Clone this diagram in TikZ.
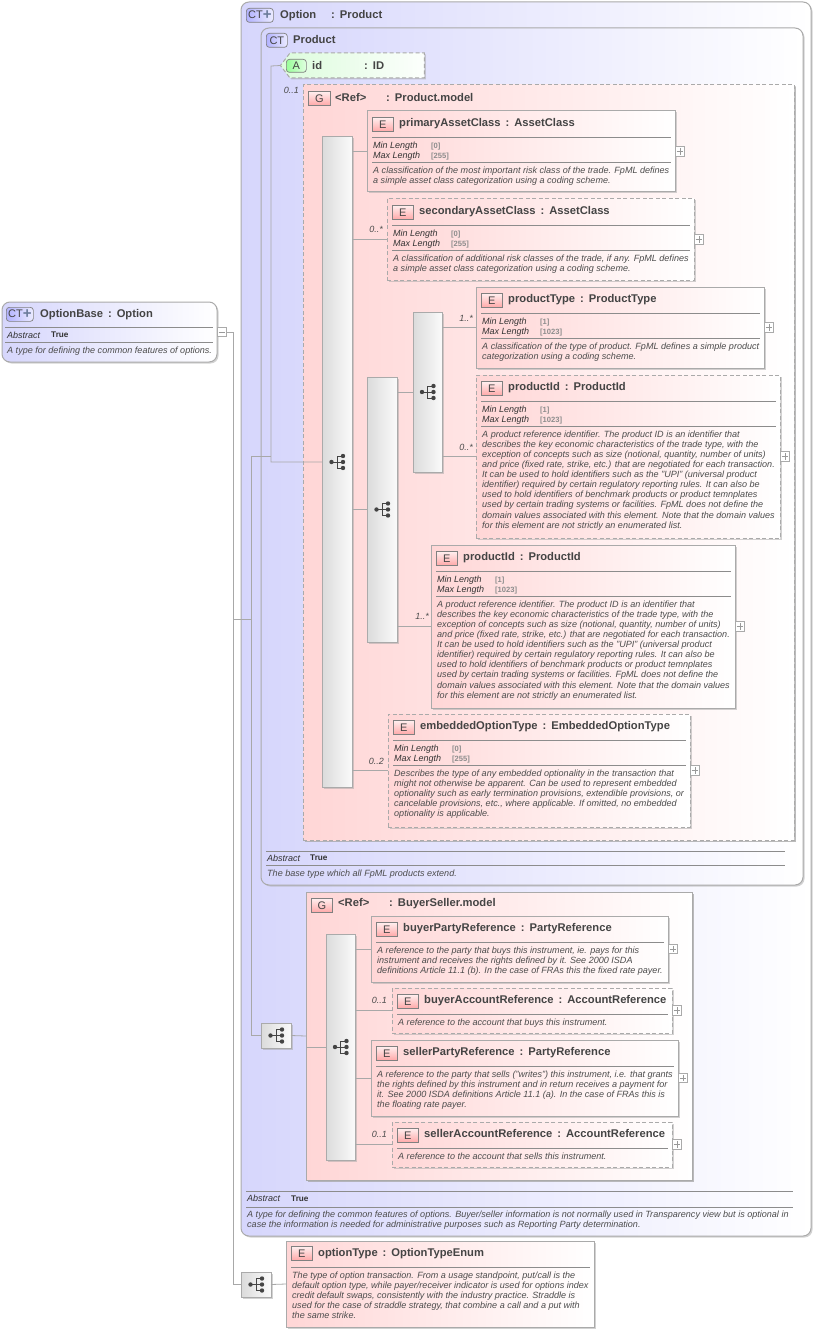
\documentclass[tikz,border=0pt]{standalone}
\usepackage{fontspec}
\setmainfont{Liberation Sans}
\usetikzlibrary{shadows,shapes.symbols}

\definecolor{inkgray}{HTML}{444444}
\definecolor{edgegray}{HTML}{AAAAAA}
\definecolor{wiregray}{HTML}{A8A8A8}
\definecolor{ctblue}{HTML}{D6D6FC}
\definecolor{elempink}{HTML}{FFD6D6}
\definecolor{attrgreen}{HTML}{DCFCDC}
\definecolor{plusblue}{HTML}{6C7C9C}

\tikzset{
	softshadow/.style={drop shadow={shadow xshift=1.5pt,shadow yshift=-1.5pt,fill=black!35,opacity=.5}},
	box/.style={draw=edgegray,line width=1pt,anchor=north west,inner sep=0,outer sep=0,softshadow},
	ctbox/.style={box,rounded corners=8pt,left color=ctblue,right color=white},
	groupbox/.style={box,left color=elempink,right color=white},
	elembox/.style={box,left color=elempink,right color=white},
	optional/.style={dash pattern=on 4pt off 2.5pt},
	seqbox/.style={box,left color=black!14,right color=black!2},
	attrbox/.style={box,shape=signal,signal to=west,signal pointer angle=105,optional,left color=attrgreen,right color=white!92!attrgreen},
	badge/.style={draw=black!50,line width=.7pt,anchor=north west,inner sep=0,minimum height=14pt,text=inkgray,font=\fontsize{11}{11}\selectfont},
	elembadge/.style={badge,minimum width=21pt,bottom color=red!34!white,top color=red!6!white},
	ctbadge/.style={badge,rounded corners=3pt,left color=blue!30!white,right color=blue!8!white},
	attrbadge/.style={badge,rounded corners=3pt,minimum width=20pt,minimum height=13pt,left color=green!40!white,right color=green!12!white},
	titletext/.style={anchor=base west,inner sep=0,text=inkgray,font=\fontsize{11.2}{12}\bfseries\selectfont},
	facetname/.style={anchor=base west,inner sep=0,text=black!80,font=\fontsize{9}{10}\itshape\selectfont},
	facetvalue/.style={anchor=base west,inner sep=0,text=black!45,font=\fontsize{7.6}{10}\bfseries\selectfont},
	abstractvalue/.style={anchor=base west,inner sep=0,text=black!80,font=\fontsize{8.2}{10}\bfseries\selectfont},
	doctext/.style={anchor=north west,inner sep=0,align=left,text=black!70,font=\fontsize{9.05}{10.1}\itshape\selectfont},
	multtext/.style={anchor=base east,inner sep=0,text=black!70,font=\fontsize{9}{10}\itshape\selectfont},
	sepline/.style={draw=black!45,line width=.7pt},
	wire/.style={draw=wiregray,line width=.8pt},
	plusbox/.style={draw=edgegray,fill=white,line width=.6pt,anchor=west,inner sep=0,outer sep=0,minimum size=9.5pt,
		path picture={\draw[black!40,line width=.5pt] ([yshift=-1.5pt]path picture bounding box.north) -- ([yshift=1.5pt]path picture bounding box.south);
			\draw[black!40,line width=.5pt] ([xshift=1.5pt]path picture bounding box.west) -- ([xshift=-1.5pt]path picture bounding box.east);}},
	minusbox/.style={draw=edgegray,fill=white,line width=.6pt,anchor=west,inner sep=0,outer sep=0,minimum size=9.5pt,
		path picture={\draw[black!40,line width=.5pt] ([xshift=1.5pt]path picture bounding box.west) -- ([xshift=-1.5pt]path picture bounding box.east);}},
	seqicon/.pic={
		\fill[inkgray] (-5.5,0) circle (2.2pt);
		\fill[inkgray] (6,-6) circle (2.2pt) (6,0) circle (2.2pt) (6,6) circle (2.2pt);
		\draw[inkgray,line width=.8pt] (-5.5,0) -- (6,0) (6,-6) -- (0,-6) -- (0,6) -- (6,6);
	},
}

\newcommand{\tsep}{\hspace{5pt}:\hspace{5pt}}
\newcommand{\ctplus}{CT{\fontsize{15}{11}\bfseries\color{plusblue}\raisebox{-1pt}{+}}}

% name, style, position, width, height, title
\newcommand{\elemhead}[6]{
	\node[elembox,#2,minimum width=#4,minimum height=#5] (#1) at #3 {};
	\node[elembadge] (#1badge) at ([shift={(5,6)}]#1.north west) {E};
	\node[titletext] (#1title) at ([shift={(32,15.8)}]#1.north west) {#6};
	\node[plusbox] (#1plus) at (#1.east) {};
	\draw[sepline] ([shift={(5,26)}]#1.north west) -- ([shift={(-4,26)}]#1.north east);
}
% name, min, max
\newcommand{\elemfacets}[3]{
	\node[facetname] (#1minname) at ([shift={(6,37.8)}]#1.north west) {Min Length};
	\node[facetvalue] (#1minval) at ([shift={(64,37.8)}]#1.north west) {[#2]};
	\node[facetname] (#1maxname) at ([shift={(6,47.8)}]#1.north west) {Max Length};
	\node[facetvalue] (#1maxval) at ([shift={(64,47.8)}]#1.north west) {[#3]};
	\draw[sepline] ([shift={(5,51)}]#1.north west) -- ([shift={(-4,51)}]#1.north east);
}
% name, offset, text
\newcommand{\elemdoc}[3]{
	\node[doctext] (#1doc) at ([shift={(6,#2)}]#1.north west) {\rule{0pt}{7pt}#3};
}

\begin{document}
\begin{tikzpicture}[x=1pt,y=-1pt]

	\useasboundingbox (0,0) rectangle (816,1332);

	% the type on the left
	\node[ctbox,minimum width=215,minimum height=60] (optionbase) at (2,302) {};
	\node[ctbadge,minimum width=27pt] (optionbasebadge) at (6,307) {\ctplus};
	\node[titletext] (optionbasetitle) at (40,317.5) {OptionBase\tsep Option};
	\draw[sepline] (5,327) -- (213,327);
	\node[facetname] (optionbaseabs) at (7,338.5) {Abstract};
	\node[abstractvalue] (optionbasetrue) at (51,337.5) {True};
	\draw[sepline] (5,342) -- (213,342);
	\node[doctext] (optionbasedoc) at (7,346) {\rule{0pt}{7pt}A type for defining the common features of options.};
	\node[minusbox] (optionbaseminus) at (optionbase.east) {};

	% outer extension
	\node[ctbox,minimum width=570,minimum height=1234] (option) at (241,2) {};
	\node[ctbadge,minimum width=27pt] (optionbadge) at (246,8) {\ctplus};
	\node[titletext] (optionname) at (280,18.5) {Option};
	\node[titletext] (optiontype) at (331,18.5) {:\hspace{5pt}Product};

	% base type
	\node[ctbox,minimum width=542,minimum height=857] (product) at (261,28) {};
	\node[ctbadge,minimum width=21pt] (productbadge) at (266,33) {CT};
	\node[titletext] (productname) at (293,43.8) {Product};

	\node[attrbox,minimum width=144,minimum height=25] (idattr) at (290,53) {};
	\node[attrbadge] (idbadge) at (286,59) {A};
	\node[titletext] (idname) at (312,69.5) {id};
	\node[titletext] (idtype) at (364,69.5) {:\hspace{5pt}ID};

	% product model
	\node[groupbox,optional,minimum width=491,minimum height=755,
		drop shadow={shadow xshift=2pt,shadow yshift=-2pt,fill=black!35,opacity=.5}] (productmodel) at (303,85) {};
	\node[elembadge,minimum width=22pt] (productmodelbadge) at (308,91) {G};
	\node[titletext] (productmodelname) at (335,102) {<Ref>};
	\node[titletext] (productmodeltype) at (386,102) {:\hspace{5pt}Product.model};
	\node[multtext] (idmult) at (299,94) {0..1};

	\node[seqbox,minimum width=30,minimum height=650] (seqmain) at (322,137) {};
	\node[seqbox,minimum width=30,minimum height=265] (seqproduct) at (367,377) {};
	\node[seqbox,minimum width=29,minimum height=160] (seqproductid) at (413,312) {};

	\elemhead{primary}{}{(367,111)}{308}{81}{primaryAssetClass\tsep AssetClass}
	\elemfacets{primary}{0}{255}
	\elemdoc{primary}{55}{A classification of the most important risk class of the trade. FpML defines\\a simple asset class categorization using a coding scheme.}

	\elemhead{secondary}{optional}{(387,199)}{307}{81}{secondaryAssetClass\tsep AssetClass}
	\elemfacets{secondary}{0}{255}
	\elemdoc{secondary}{55}{A classification of additional risk classes of the trade, if any. FpML defines\\a simple asset class categorization using a coding scheme.}

	\elemhead{producttype}{}{(476,287)}{288}{81}{productType\tsep ProductType}
	\elemfacets{producttype}{1}{1023}
	\elemdoc{producttype}{55}{A classification of the type of product. FpML defines a simple product\\categorization using a coding scheme.}

	\elemhead{productidopt}{optional}{(476,375)}{304}{163}{productId\tsep ProductId}
	\elemfacets{productidopt}{1}{1023}
	\elemdoc{productidopt}{55}{A product reference identifier. The product ID is an identifier that\\describes the key economic characteristics of the trade type, with the\\exception of concepts such as size (notional, quantity, number of units)\\and price (fixed rate, strike, etc.) that are negotiated for each transaction.\\It can be used to hold identifiers such as the "UPI" (universal product\\identifier) required by certain regulatory reporting rules. It can also be\\used to hold identifiers of benchmark products or product temnplates\\used by certain trading systems or facilities. FpML does not define the\\domain values associated with this element. Note that the domain values\\for this element are not strictly an enumerated list.}

	\elemhead{productid}{}{(431,545)}{304}{163}{productId\tsep ProductId}
	\elemfacets{productid}{1}{1023}
	\elemdoc{productid}{55}{A product reference identifier. The product ID is an identifier that\\describes the key economic characteristics of the trade type, with the\\exception of concepts such as size (notional, quantity, number of units)\\and price (fixed rate, strike, etc.) that are negotiated for each transaction.\\It can be used to hold identifiers such as the "UPI" (universal product\\identifier) required by certain regulatory reporting rules. It can also be\\used to hold identifiers of benchmark products or product temnplates\\used by certain trading systems or facilities. FpML does not define the\\domain values associated with this element. Note that the domain values\\for this element are not strictly an enumerated list.}

	\elemhead{embedded}{optional}{(388,714)}{302}{113}{embeddedOptionType\tsep EmbeddedOptionType}
	\elemfacets{embedded}{0}{255}
	\elemdoc{embedded}{55}{Describes the type of any embedded optionality in the transaction that\\might not otherwise be apparent. Can be used to represent embedded\\optionality such as early termination provisions, extendible provisions, or\\cancelable provisions, etc., where applicable. If omitted, no embedded\\optionality is applicable.}

	\pic at (seqmain) {seqicon};
	\pic at (seqproduct) {seqicon};
	\pic at (seqproductid) {seqicon};

	\node[multtext] (secondarymult) at (383,233) {0..*};
	\node[multtext] (producttypemult) at (473,321) {1..*};
	\node[multtext] (productidoptmult) at (473,450) {0..*};
	\node[multtext] (productidmult) at (429,619) {1..*};
	\node[multtext] (embeddedmult) at (384,764) {0..2};

	% base type footer
	\draw[sepline] (266,851) -- (785,851);
	\node[facetname] (productabs) at (267,861) {Abstract};
	\node[abstractvalue] (producttrue) at (310,860.5) {True};
	\draw[sepline] (266,865) -- (785,865);
	\node[doctext] (productdoc) at (267,869) {\rule{0pt}{7pt}The base type which all FpML products extend.};

	% buyer and seller model
	\node[seqbox,minimum width=30,minimum height=25] (compbuyer) at (261,1023) {};
	\pic at (compbuyer) {seqicon};
	\node[groupbox,minimum width=386,minimum height=288,
		drop shadow={shadow xshift=2pt,shadow yshift=-2pt,fill=black!35,opacity=.5}] (buyermodel) at (306,892) {};
	\node[elembadge] (buyermodelbadge) at (311,898) {G};
	\node[titletext] (buyermodelname) at (338,906.5) {<Ref>};
	\node[titletext] (buyermodeltype) at (389,906.5) {:\hspace{5pt}BuyerSeller.model};

	\node[seqbox,minimum width=29,minimum height=226] (seqbuyer) at (326,934) {};
	\pic at (seqbuyer) {seqicon};

	\elemhead{buyerparty}{}{(371,916)}{297}{66}{buyerPartyReference\tsep PartyReference}
	\elemdoc{buyerparty}{30}{A reference to the party that buys this instrument, ie. pays for this\\instrument and receives the rights defined by it. See 2000 ISDA\\definitions Article 11.1 (b). In the case of FRAs this the fixed rate payer.}

	\elemhead{buyeraccount}{optional}{(392,988)}{280}{45}{buyerAccountReference\tsep AccountReference}
	\elemdoc{buyeraccount}{30}{A reference to the account that buys this instrument.}

	\elemhead{sellerparty}{}{(371,1040)}{307}{76}{sellerPartyReference\tsep PartyReference}
	\elemdoc{sellerparty}{30}{A reference to the party that sells ("writes") this instrument, i.e. that grants\\the rights defined by this instrument and in return receives a payment for\\it. See 2000 ISDA definitions Article 11.1 (a). In the case of FRAs this is\\the floating rate payer.}

	\elemhead{selleraccount}{optional}{(392,1122)}{280}{45}{sellerAccountReference\tsep AccountReference}
	\elemdoc{selleraccount}{30}{A reference to the account that sells this instrument.}

	\node[multtext] (buyeraccountmult) at (387,1003) {0..1};
	\node[multtext] (selleraccountmult) at (387,1137) {0..1};

	% outer footer
	\draw[sepline] (246,1191) -- (793,1191);
	\node[facetname] (optionabs) at (247,1201.5) {Abstract};
	\node[abstractvalue] (optiontrue) at (291,1201) {True};
	\draw[sepline] (246,1207) -- (793,1207);
	\node[doctext] (optiondoc) at (247,1210) {\rule{0pt}{7pt}A type for defining the common features of options. Buyer/seller information is not normally used in Transparency view but is optional in\\case the information is needed for administrative purposes such as Reporting Party determination.};

	% option type
	\node[seqbox,minimum width=30,minimum height=25] (compoption) at (241,1272) {};
	\pic at (compoption) {seqicon};
	\node[elembox,minimum width=308,minimum height=86] (optiontypeelem) at (286,1241) {};
	\node[elembadge] (optiontypebadge) at (291,1246) {E};
	\node[titletext] (optiontypetitle) at (318,1256.5) {optionType\tsep OptionTypeEnum};
	\draw[sepline] (291,1267) -- (590,1267);
	\node[doctext] (optiontypedoc) at (292,1271) {\rule{0pt}{7pt}The type of option transaction. From a usage standpoint, put/call is the\\default option type, while payer/receiver indicator is used for options index\\credit default swaps, consistently with the industry practice. Straddle is\\used for the case of straddle strategy, that combine a call and a put with\\the same strike.};

	% connectors
	\coordinate (trunk) at (233,332);
	\coordinate (innertrunk) at (251,457);
	\coordinate (prodtrunk) at (271,66);

	\draw[wire] (optionbaseminus.east) -- (trunk) -- (trunk |- compoption.west) -- (compoption.west);
	\draw[wire] (trunk |- option.west) -- (innertrunk |- option.west);
	\draw[wire] (product.west) -- (innertrunk |- product.west) -- (innertrunk |- compbuyer.west) -- (compbuyer.west);
	\draw[wire] (innertrunk |- product.west) -- (prodtrunk |- product.west);
	\draw[wire] (idattr.west) -- (prodtrunk) -- (prodtrunk |- seqmain.west) -- (seqmain.west);
	\draw[wire] (seqmain.east |- primary.west) -- (primary.west);
	\draw[wire] (seqmain.east |- secondary.west) -- (secondary.west);
	\draw[wire] (seqmain.east |- seqproduct.west) -- (seqproduct.west);
	\draw[wire] (seqmain.east |- embedded.west) -- (embedded.west);
	\draw[wire] (seqproduct.east |- seqproductid.west) -- (seqproductid.west);
	\draw[wire] (seqproduct.east |- productid.west) -- (productid.west);
	\draw[wire] (seqproductid.east |- producttype.west) -- (producttype.west);
	\draw[wire] (seqproductid.east |- productidopt.west) -- (productidopt.west);
	\draw[wire] (compbuyer.east) -- (buyermodel.west);
	\draw[wire] (buyermodel.west |- seqbuyer.west) -- (seqbuyer.west);
	\draw[wire] (seqbuyer.east |- buyerparty.west) -- (buyerparty.west);
	\draw[wire] (seqbuyer.east |- buyeraccount.west) -- (buyeraccount.west);
	\draw[wire] (seqbuyer.east |- sellerparty.west) -- (sellerparty.west);
	\draw[wire] (seqbuyer.east |- selleraccount.west) -- (selleraccount.west);
	\draw[wire] (compoption.east) -- (optiontypeelem.west);

\end{tikzpicture}
\end{document}
